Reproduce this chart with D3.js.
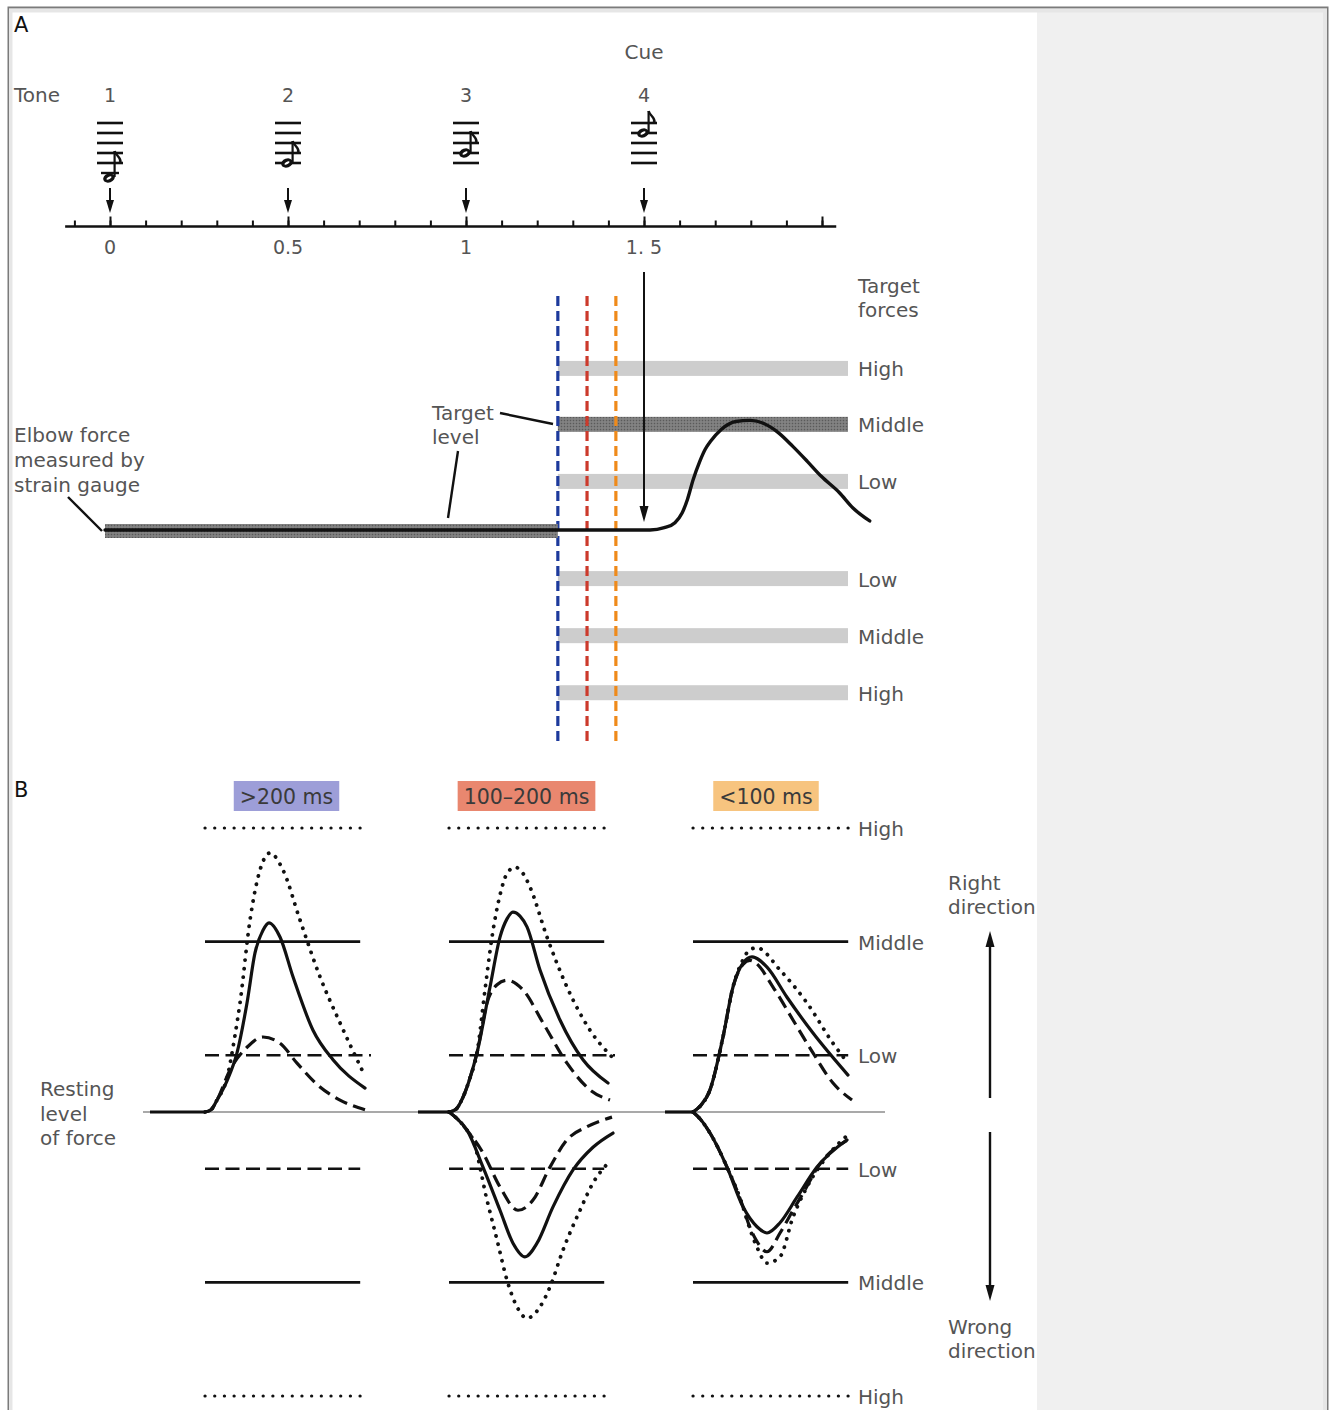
<!DOCTYPE html>
<html>
<head>
<meta charset="utf-8">
<title>Elbow force responses to timed cues</title>
<script src="https://cdn.jsdelivr.net/npm/d3@7"></script>
<style>
  html, body { margin: 0; padding: 0; background: #fff; overflow: hidden; }
  svg text { font-family: "DejaVu Sans", "Open Sans", sans-serif; }
</style>
</head>
<body>
<div id="chart"></div>
<script>
// ---------- Panel A: tone sequence and target display ----------
const toneTimes = [0, 0.5, 1, 1.5];            // s
const toneLabels = ["1", "2", "3", "4"];
const tonePitch = [-3, 0, 2, 6];               // staff steps above the bottom line
const tickLabelTimes = [0, 0.5, 1, 1.5];
const tickLabels = ["0", "0.5", "1", "1. 5"];
const minorTickTimes = d3.range(-1, 21).map(i => i / 10);
const majorTickTimes = [0, 0.5, 1, 1.5, 2];
const cueTime = 1.5;

// onset of the target display for each reaction-time window
const windowTimes = [1.258, 1.34, 1.421];
const windowColors = ["#1d3a9c", "#cc3a2c", "#ef8a1a"];
const targetEndTime = 2.073;

// target forces (force units, + = right direction)
const targetNames = ["High", "Middle", "Low", "Low", "Middle", "High"];
const targetLevels = [2.86, 1.87, 0.86, -0.86, -1.87, -2.88];
const cuedTarget = 1;

// elbow force trace
const forceTimes = [-0.014, 1.258, 1.517, 1.557, 1.587, 1.607, 1.622, 1.638, 1.657, 1.672, 1.687, 1.717,
                    1.758, 1.798, 1.838, 1.878, 1.918, 1.958, 1.998, 2.049, 2.087, 2.134];
const forceValues = [0, 0, 0, 0.04, 0.13, 0.30, 0.54, 0.89, 1.22, 1.43, 1.57, 1.78,
                     1.92, 1.94, 1.88, 1.72, 1.48, 1.22, 0.95, 0.66, 0.39, 0.16];

// ---------- Panel B: responses grouped by reaction time ----------
const rtGroups = [">200 ms", "100\u2013200 ms", "<100 ms"];
const rtColors = ["#9d9ed8", "#e9876f", "#f7c47f"];
const refNames = ["High", "Middle", "Low", "Low", "Middle", "High"];
const refLevels = [5, 3, 1, -1, -3, -5];
const restStart = [-110, -62, -56];            // ms before force onset

// [ms after onset, force]
const slowUpLow  = [[0,0],[12,0.04],[24,0.21],[50,0.74],[84,1.14],[116,1.32],[150,1.21],[184,0.86],[230,0.44],[270,0.21],[320,0.04]];
const slowUpMid  = [[0,0],[12,0.04],[24,0.21],[44,0.55],[64,1.04],[84,1.92],[100,2.8],[116,3.2],[128,3.33],[150,3.08],[176,2.38],[216,1.44],[256,0.92],[320,0.42]];
const slowUpHigh = [[0,0],[12,0.04],[24,0.21],[44,0.6],[60,1.35],[70,1.92],[90,3.38],[110,4.26],[130,4.56],[156,4.26],[190,3.38],[230,2.38],[270,1.57],[314,0.74]];

const medUpLow   = [[0,0],[14,0.05],[28,0.26],[42,0.6],[56,1.04],[76,1.92],[96,2.24],[116,2.32],[148,2.15],[188,1.57],[236,0.86],[282,0.39],[322,0.21]];
const medUpMid   = [[0,0],[14,0.05],[28,0.26],[42,0.6],[56,1.04],[82,2.2],[102,3.08],[116,3.4],[128,3.52],[142,3.45],[156,3.26],[182,2.5],[222,1.62],[268,0.92],[318,0.51]];
const medUpHigh  = [[0,0],[14,0.05],[28,0.26],[42,0.6],[56,1.04],[72,2.15],[86,3.08],[102,3.82],[116,4.2],[132,4.31],[148,4.2],[162,3.96],[196,3.08],[236,2.2],[282,1.44],[326,0.97]];
const medDnLow   = [[0,0],[14,-0.1],[36,-0.32],[68,-0.72],[102,-1.32],[138,-1.73],[168,-1.55],[202,-0.97],[236,-0.49],[276,-0.26],[326,-0.09]];
const medDnMid   = [[0,0],[14,-0.1],[36,-0.32],[68,-0.97],[102,-1.73],[128,-2.31],[152,-2.55],[176,-2.31],[208,-1.67],[248,-1.02],[288,-0.62],[328,-0.37]];
const medDnHigh  = [[0,0],[14,-0.1],[36,-0.32],[48,-0.49],[76,-1.55],[96,-2.25],[116,-2.96],[136,-3.43],[156,-3.63],[182,-3.43],[202,-3.08],[228,-2.43],[262,-1.73],[288,-1.25],[318,-0.9]];

const fastUpLow  = [[0,0],[14,0.1],[34,0.39],[60,1.32],[80,2.2],[100,2.6],[114,2.67],[126,2.62],[160,2.2],[200,1.62],[240,1.04],[280,0.51],[318,0.21]];
const fastUpMid  = [[0,0],[14,0.1],[34,0.39],[60,1.32],[80,2.2],[100,2.62],[118,2.73],[148,2.55],[188,2.02],[240,1.39],[310,0.65]];
const fastUpHigh = [[0,0],[14,0.1],[34,0.39],[60,1.32],[80,2.2],[100,2.68],[114,2.86],[128,2.89],[174,2.5],[228,1.92],[280,1.21],[310,0.86]];
const fastDnLow  = [[0,0],[14,-0.12],[34,-0.37],[68,-0.97],[100,-1.67],[110,-1.94],[126,-2.25],[148,-2.46],[174,-2.13],[200,-1.73],[224,-1.37],[248,-0.99],[308,-0.5]];
const fastDnMid  = [[0,0],[14,-0.12],[34,-0.37],[68,-0.97],[100,-1.67],[128,-2.02],[148,-2.13],[174,-1.95],[208,-1.5],[248,-0.97],[308,-0.49]];
const fastDnHigh = [[0,0],[14,-0.12],[34,-0.37],[68,-0.97],[100,-1.67],[108,-1.9],[128,-2.38],[148,-2.66],[174,-2.55],[200,-1.85],[228,-1.32],[274,-0.72],[314,-0.37]];

// ---------- layout ----------
const W = 1329, H = 1410;
const INK = "#111";
const TEXT = "#555";
const FS = 20;

const svg = d3.select("#chart").append("svg")
  .attr("width", W).attr("height", H)
  .attr("viewBox", `0 0 ${W} ${H}`);

// frame and side panel
svg.append("rect").attr("x", 7.5).attr("y", 6.5).attr("width", 1321).attr("height", H).attr("fill", "#7b7b7b");
svg.append("rect").attr("x", 9).attr("y", 8.3).attr("width", 1318).attr("height", H).attr("fill", "#e6e6e6");
svg.append("rect").attr("x", 12.5).attr("y", 12.5).attr("width", 1024.5).attr("height", H).attr("fill", "#fff");
svg.append("rect").attr("x", 1037).attr("y", 12.5).attr("width", 286).attr("height", H).attr("fill", "#f0f0f0");

const defs = svg.append("defs");
const grain = defs.append("pattern").attr("id", "grain")
  .attr("width", 3).attr("height", 3).attr("patternUnits", "userSpaceOnUse");
grain.append("rect").attr("width", 3).attr("height", 3).attr("fill", "#7a7a7a");
grain.append("rect").attr("width", 1).attr("height", 1).attr("fill", "#5a5a5a");
grain.append("rect").attr("x", 1.5).attr("y", 1.5).attr("width", 1).attr("height", 1).attr("fill", "#9a9a9a");

function text(g, x, y, str, opt = {}) {
  return g.append("text")
    .attr("x", x).attr("y", y).attr("dy", "0.35em")
    .attr("text-anchor", opt.anchor || "start")
    .attr("font-size", opt.size || FS)
    .attr("fill", opt.fill || TEXT)
    .attr("font-weight", opt.weight || 400)
    .text(str);
}
function lines(g, x, y0, step, arr, opt) {
  arr.forEach((s, i) => text(g, x, y0 + i * step, s, opt));
}
function arrowHead(g, x, y, dir, w = 4.5, h = 14) {
  // dir = 1 points down, -1 points up; (x, y) is the tip
  g.append("path")
    .attr("d", `M${x},${y} L${x - w},${y - dir * h} L${x + w},${y - dir * h} Z`)
    .attr("fill", INK);
}

// ===================== Panel A =====================
const A = svg.append("g");
const xA = d3.scaleLinear().domain([0, 1.5]).range([110, 644]);
const yA = d3.scaleLinear().domain([0, 1]).range([530, 473.5]);

text(A, 14, 25, "A", { fill: "#111", size: 21 });
text(A, xA(cueTime), 52, "Cue", { anchor: "middle" });
text(A, 14, 95, "Tone");
toneTimes.forEach((t, i) => text(A, xA(t), 95, toneLabels[i], { anchor: "middle", size: 19 }));

// time axis with upward ticks
const axisY = 226.5;
A.append("line").attr("x1", xA(-0.126)).attr("x2", xA(2.04))
  .attr("y1", axisY).attr("y2", axisY).attr("stroke", INK).attr("stroke-width", 2.4);
A.append("g").attr("transform", `translate(0,${axisY})`)
  .call(d3.axisTop(xA).tickValues(minorTickTimes).tickSize(6).tickFormat(""))
  .call(g => g.select(".domain").remove())
  .call(g => g.selectAll(".tick line").attr("stroke", INK).attr("stroke-width", 2));
A.append("g").attr("transform", `translate(0,${axisY})`)
  .call(d3.axisTop(xA).tickValues(majorTickTimes).tickSize(10).tickFormat(""))
  .call(g => g.select(".domain").remove())
  .call(g => g.selectAll(".tick line").attr("stroke", INK).attr("stroke-width", 2));
tickLabelTimes.forEach((t, i) => text(A, xA(t), 247, tickLabels[i], { anchor: "middle", size: 19 }));

// tones: staff with one note each, and an arrow down to the axis
toneTimes.forEach((t, i) => {
  const X = xA(t);
  const g = A.append("g").attr("transform", `translate(${X},0)`);
  for (let k = 0; k < 5; k++) {
    const y = 163 - 10 * k;
    g.append("line").attr("x1", -13).attr("x2", 13).attr("y1", y).attr("y2", y)
      .attr("stroke", INK).attr("stroke-width", 2.6);
  }
  const yh = 163 - 5 * tonePitch[i];
  if (tonePitch[i] <= -2) {
    g.append("line").attr("x1", -9).attr("x2", 9).attr("y1", 173).attr("y2", 173)
      .attr("stroke", INK).attr("stroke-width", 2.4);
  }
  g.append("ellipse").attr("cx", -1).attr("cy", yh).attr("rx", 6).attr("ry", 4.4)
    .attr("transform", `rotate(-20,-1,${yh})`).attr("fill", INK);
  g.append("ellipse").attr("cx", -1).attr("cy", yh).attr("rx", 2.8).attr("ry", 1.2)
    .attr("transform", `rotate(-30,-1,${yh})`).attr("fill", "#fff");
  const top = yh - (tonePitch[i] < 0 ? 27 : 22);
  g.append("line").attr("x1", 4.6).attr("x2", 4.6).attr("y1", yh - 1).attr("y2", top)
    .attr("stroke", INK).attr("stroke-width", 2.2);
  g.append("path")
    .attr("d", `M4.6,${top} C6,${top + 5} 11,${top + 6} 10.5,${top + 11} L9,${top + 12}`)
    .attr("fill", "none").attr("stroke", INK).attr("stroke-width", 2.4);
  // arrow
  g.append("line").attr("x1", 0).attr("x2", 0).attr("y1", 188).attr("y2", 202)
    .attr("stroke", INK).attr("stroke-width", 2);
  arrowHead(g, 0, 213, 1, 4, 13);
});

// target force bars
const barH = 15;
targetLevels.forEach((v, i) => {
  A.append("rect")
    .attr("x", xA(windowTimes[0])).attr("width", xA(targetEndTime) - xA(windowTimes[0]))
    .attr("y", yA(v) - barH / 2).attr("height", barH)
    .attr("fill", i === cuedTarget ? "url(#grain)" : "#cdcdcd");
  text(A, 858, yA(v) + 1, targetNames[i]);
});
lines(A, 858, 286, 24, ["Target", "forces"]);

// reaction-time windows
windowTimes.forEach((t, i) => {
  A.append("line").attr("x1", xA(t)).attr("x2", xA(t)).attr("y1", 296).attr("y2", 742)
    .attr("stroke", windowColors[i]).attr("stroke-width", 3.2).attr("stroke-dasharray", "10,5");
});

// resting target band and the force trace
A.append("rect").attr("x", xA(forceTimes[0])).attr("width", xA(windowTimes[0]) - xA(forceTimes[0]))
  .attr("y", yA(0) - 6).attr("height", 14).attr("fill", "url(#grain)");
const forceLine = d3.line()
  .x((d, i) => xA(forceTimes[i])).y(d => yA(d))
  .curve(d3.curveMonotoneX);
A.append("path").attr("d", forceLine(forceValues))
  .attr("fill", "none").attr("stroke", INK).attr("stroke-width", 3.4)
  .attr("stroke-linecap", "round").attr("stroke-linejoin", "round");

// cue arrow
A.append("line").attr("x1", xA(cueTime)).attr("x2", xA(cueTime)).attr("y1", 272).attr("y2", 508)
  .attr("stroke", INK).attr("stroke-width", 2);
arrowHead(A, xA(cueTime), 522, 1, 4.5, 16);

// annotations
lines(A, 432, 413, 24, ["Target", "level"]);
A.append("line").attr("x1", 500).attr("y1", 413).attr("x2", 553).attr("y2", 424)
  .attr("stroke", INK).attr("stroke-width", 2.4);
A.append("line").attr("x1", 458).attr("y1", 451).attr("x2", 448).attr("y2", 518)
  .attr("stroke", INK).attr("stroke-width", 2.4);
lines(A, 14, 435, 25, ["Elbow force", "measured by", "strain gauge"]);
A.append("line").attr("x1", 68).attr("y1", 497).attr("x2", 102).attr("y2", 531)
  .attr("stroke", INK).attr("stroke-width", 2.4);

// ===================== Panel B =====================
const B = svg.append("g");
const colX = [205, 449, 693];
const headerOffset = [163, 155, 146];          // ms, centre of each group header
const xB = colX.map(x0 => d3.scaleLinear().domain([0, 300]).range([x0, x0 + 150]));
const yB = d3.scaleLinear().domain([-5, 5]).range([1396, 828]);

text(B, 14, 790, "B", { fill: "#111", size: 21 });

// group headers
rtGroups.forEach((name, i) => {
  const cx = xB[i](headerOffset[i]);
  const box = B.append("rect").attr("y", 781).attr("height", 30).attr("fill", rtColors[i]);
  const t = text(B, cx, 796.5, name, { anchor: "middle", fill: "#3a3a3a", size: 20.5 });
  const w = t.node().getComputedTextLength() + 12;
  box.attr("x", cx - w / 2).attr("width", w);
});

// resting level
B.append("line").attr("x1", 143).attr("x2", 885).attr("y1", yB(0)).attr("y2", yB(0))
  .attr("stroke", "#8c8c8c").attr("stroke-width", 1.6);

// target reference lines
const refStyle = {
  High:   { dash: "0.1,9.59", w: 3.2, cap: "round" },
  Middle: { dash: null, w: 2.6, cap: "butt" },
  Low:    { dash: "14,6.5", w: 2.6, cap: "butt" }
};
refLevels.forEach((v, j) => {
  const s = refStyle[refNames[j]];
  colX.forEach((x0, i) => {
    const end = (refNames[j] === "Low" && v > 0 && i < 2) ? 332 : 310.4;
    B.append("line").attr("x1", xB[i](0)).attr("x2", xB[i](end))
      .attr("y1", yB(v)).attr("y2", yB(v))
      .attr("stroke", INK).attr("stroke-width", s.w)
      .attr("stroke-dasharray", s.dash).attr("stroke-linecap", s.cap);
  });
  text(B, 858, yB(v) + 1, refNames[j]);
});

// responses
const curveStyle = {
  High:   { dash: "0.1,8.4", w: 3.8, cap: "round" },
  Middle: { dash: null, w: 3.2, cap: "round" },
  Low:    { dash: "13,6.5", w: 3.2, cap: "butt" }
};
const responses = [
  [slowUpLow, "Low", 0], [slowUpMid, "Middle", 0], [slowUpHigh, "High", 0],
  [medUpLow, "Low", 1], [medUpMid, "Middle", 1], [medUpHigh, "High", 1],
  [medDnLow, "Low", 1], [medDnMid, "Middle", 1], [medDnHigh, "High", 1],
  [fastUpLow, "Low", 2], [fastUpMid, "Middle", 2], [fastUpHigh, "High", 2],
  [fastDnLow, "Low", 2], [fastDnMid, "Middle", 2], [fastDnHigh, "High", 2]
];
responses.forEach(([pts, level, i]) => {
  const s = curveStyle[level];
  const line = d3.line().x(d => xB[i](d[0])).y(d => yB(d[1])).curve(d3.curveMonotoneX);
  B.append("path").attr("d", line(pts))
    .attr("fill", "none").attr("stroke", INK).attr("stroke-width", s.w)
    .attr("stroke-dasharray", s.dash).attr("stroke-linecap", s.cap).attr("stroke-linejoin", "round");
});
// force before onset
colX.forEach((x0, i) => {
  B.append("line").attr("x1", xB[i](restStart[i])).attr("x2", xB[i](0))
    .attr("y1", yB(0)).attr("y2", yB(0)).attr("stroke", INK).attr("stroke-width", 3.2);
});

lines(B, 40, 1089, 24.5, ["Resting", "level", "of force"]);

// direction arrows
lines(B, 948, 883, 24, ["Right", "direction"]);
lines(B, 948, 1327, 24, ["Wrong", "direction"]);
B.append("line").attr("x1", 990).attr("x2", 990).attr("y1", 1098).attr("y2", 945)
  .attr("stroke", INK).attr("stroke-width", 2.4);
arrowHead(B, 990, 931, -1, 4.5, 16);
B.append("line").attr("x1", 990).attr("x2", 990).attr("y1", 1132).attr("y2", 1287)
  .attr("stroke", INK).attr("stroke-width", 2.4);
arrowHead(B, 990, 1301, 1, 4.5, 16);
</script>
</body>
</html>
